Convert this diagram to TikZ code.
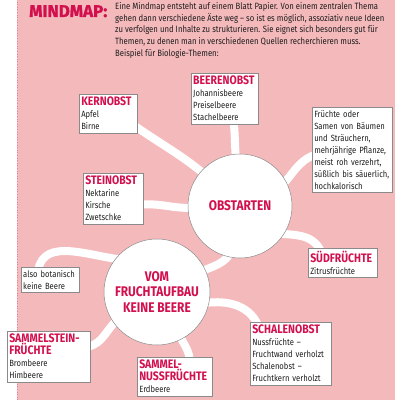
\documentclass[tikz,border=0pt]{standalone}
\usepackage{fontspec}
\setmainfont{Fira Sans}[FakeStretch=0.85]
\newfontfamily\titlefont{Fira Sans}[FakeBold=1.2]
\usetikzlibrary{backgrounds,calc}
\definecolor{bgpink}{HTML}{F4B9BB}
\definecolor{hred}{HTML}{D3104E}
\definecolor{edgegray}{HTML}{8A8A8A}
\definecolor{txt}{HTML}{1E1E1E}
\newcommand{\hd}[1]{{\fontsize{12.3}{12.5}\selectfont\bfseries\color{hred}#1}}
\newcommand{\boxfont}{\fontsize{9}{12}\selectfont\hyphenpenalty=10000\relax}
\begin{document}
\begin{tikzpicture}[x=1pt,y=1pt,
  box/.style={draw=edgegray, line width=0.5pt, fill=white, anchor=north west, align=left,
    inner xsep=2pt, inner ysep=3pt, font=\boxfont, text=txt},
  bubble/.style={circle, draw=edgegray, line width=0.5pt, fill=white, inner sep=0pt,
    align=center, font=\fontsize{14}{15.5}\selectfont\bfseries, text=hred},
  band/.style={white, line width=8pt}]
\useasboundingbox (0,0) rectangle (400,400);

\node[anchor=base west, inner sep=0pt, font=\titlefont\fontsize{17}{17}\selectfont\bfseries, text=hred] (title) at (29,383) {MINDMAP:};
\node[anchor=north west, inner sep=0pt, align=left, font=\fontsize{9.1}{11.6}\selectfont, text=txt] (intro) at (115,397.5)
 {Eine Mindmap entsteht auf einem Blatt Papier. Von einem zentralen Thema\\
  gehen dann verschiedene Äste weg – so ist es möglich, assoziativ neue Ideen\\
  zu verfolgen und Inhalte zu strukturieren. Sie eignet sich besonders gut für\\
  Themen, zu denen man in verschiedenen Quellen recherchieren muss.\\
  Beispiel für Biologie-Themen:};

\node[bubble, minimum size=104pt] (obst) at (240,194) {OBSTARTEN};
\node[bubble, minimum size=106pt] (vom) at (157,108) {VOM\\FRUCHTAUFBAU\\KEINE BEERE};

\node[box, text width=54pt] (kern) at (79,306) {\hd{KERNOBST}\\Apfel\\Birne};
\node[box, text width=63pt] (beere) at (191,327) {\hd{BEERENOBST}\\Johannisbeere\\Preiselbeere\\Stachelbeere};
\node[box, text width=76pt] (desc) at (312,293) {Früchte oder\\Samen von Bäumen\\und Sträuchern,\\mehrjährige Pflanze,\\meist roh verzehrt,\\süßlich bis säuerlich,\\hochkalorisch};
\node[box, text width=56pt] (stein) at (83,227) {\hd{STEINOBST}\\Nektarine\\Kirsche\\Zwetschke};
\node[box, text width=54pt] (also) at (21,133) {also botanisch\\keine Beere};
\node[box, text width=65pt] (sued) at (308,152) {\hd{SÜDFRÜCHTE}\\Zitrusfrüchte};
\node[box, text width=77pt] (schale) at (250,78) {\hd{SCHALENOBST}\\Nussfrüchte –\\Fruchtwand verholzt\\Schalenobst –\\Fruchtkern verholzt};
\node[box, text width=71pt] (snuss) at (137,43) {\hd{SAMMEL-}\\\hd{NUSSFRÜCHTE}\\Erdbeere};
\node[box, text width=79pt] (sstein) at (7,69) {\hd{SAMMELSTEIN-}\\\hd{FRÜCHTE}\\Brombeere\\Himbeere};

\begin{scope}[on background layer]
\fill[bgpink] (17,0) rectangle (395,400);
\draw[hred!55, dotted, line width=0.6pt] (17,0) -- (17,400);
\draw[band] ($(obst.center)!.85!(obst.138)$) to[out=140,in=-35] ([shift={(-3,-12)}]kern.east);
\draw[band] ($(obst.center)!.85!(obst.95)$) to[out=95,in=-85] ([shift={(9,3)}]beere.south);
\draw[band] ($(obst.center)!.85!(obst.25)$) to[out=45,in=200] ([shift={(3,-5)}]desc.west);
\draw[band] ($(obst.center)!.85!(obst.182)$) to[out=185,in=5] ([shift={(-3,-6)}]stein.east);
\draw[band] ($(obst.center)!.85!(obst.-38)$) to[out=-5,in=115] ([shift={(-22,-3)}]sued.north);
\draw[band] ($(vom.center)!.85!(vom.25)$) to[out=25,in=-115] ($(obst.center)!.85!(obst.-100)$);
\draw[band] ($(vom.center)!.85!(vom.135)$) to[out=175,in=80] ([shift={(-12,-3)}]also.north);
\draw[band] ($(vom.center)!.85!(vom.215)$) to[out=215,in=10] ([shift={(-3,10)}]sstein.east);
\draw[band] ($(vom.center)!.85!(vom.-62)$) to[out=-70,in=95] ([shift={(15,-3)}]snuss.north);
\draw[band] ($(vom.center)!.85!(vom.-15)$) to[out=10,in=115] ([shift={(8,-3)}]schale.north west);
\end{scope}
\end{tikzpicture}
\end{document}
